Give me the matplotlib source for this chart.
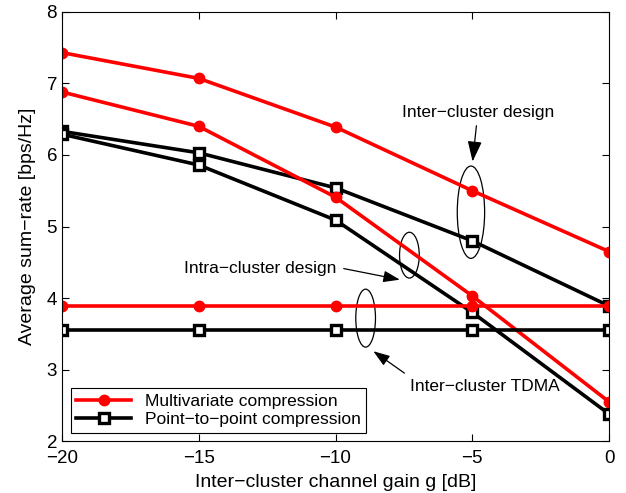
import matplotlib
matplotlib.use('Agg')
import matplotlib.pyplot as plt
from matplotlib.patches import Ellipse

plt.rcParams['font.family'] = ['Liberation Sans', 'DejaVu Sans']

# data
gain = [-20, -15, -10, -5, 0]
mv_inter = [7.43, 7.07, 6.39, 5.50, 4.65]
mv_intra = [6.88, 6.40, 5.41, 4.03, 2.55]
mv_tdma = [3.89, 3.89, 3.89, 3.89, 3.89]
p2p_inter = [6.33, 6.03, 5.54, 4.80, 3.89]
p2p_intra = [6.29, 5.86, 5.09, 3.80, 2.38]
p2p_tdma = [3.55, 3.55, 3.55, 3.55, 3.55]

fig = plt.figure(figsize=(6.26, 4.93), dpi=100)
ax = fig.add_axes([0.099, 0.105, 0.874, 0.871])

red = dict(color='#ff0000', lw=2.6, marker='o', ms=7.5, mfc='#ff0000', mec='#ff0000')
blk = dict(color='black', lw=2.6, marker='s', ms=7, mfc='white', mec='black', mew=2.4)

ax.plot(gain, mv_inter, label='Multivariate compression', **red)
ax.plot(gain, p2p_inter, label='Point\u2212to\u2212point compression', **blk)
ax.plot(gain, mv_intra, **red)
ax.plot(gain, p2p_intra, **blk)
ax.plot(gain, mv_tdma, **red)
ax.plot(gain, p2p_tdma, **blk)

# annotation ellipses
ax.add_patch(Ellipse((-5.05, 5.2), 1.0, 1.29, fill=False, lw=0.9, color='black'))
ax.add_patch(Ellipse((-7.3, 4.6), 0.72, 0.64, fill=False, lw=0.9, color='black'))
ax.add_patch(Ellipse((-8.9, 3.72), 0.72, 0.81, fill=False, lw=0.9, color='black'))

arr = dict(arrowstyle='-|>,head_length=1.0,head_width=0.35', color='black', lw=0.9)
ax.annotate('Inter\u2212cluster design', xy=(-5.0, 5.87), xytext=(-4.8, 6.59),
            ha='center', va='center', fontsize=12.5, arrowprops=arr)
ax.annotate('', xy=(-7.55, 4.25), xytext=(-9.8, 4.42), arrowprops=arr)
ax.text(-12.75, 4.42, 'Intra\u2212cluster design', ha='center', va='center', fontsize=12.5)
ax.annotate('', xy=(-8.7, 3.28), xytext=(-7.4, 2.93), arrowprops=arr)
ax.text(-4.55, 2.76, 'Inter\u2212cluster TDMA', ha='center', va='center', fontsize=12.5)

ax.set_xlim(-20, 0)
ax.set_ylim(2, 8)
ax.set_xticks(gain)
ax.set_yticks(range(2, 9))
ax.tick_params(direction='in', top=True, right=True, labelsize=13.5, length=5)
ax.tick_params(axis='x', pad=6)
ax.set_xlabel('Inter\u2212cluster channel gain g [dB]', fontsize=14, labelpad=5)
ax.set_ylabel('Average sum\u2212rate [bps/Hz]', fontsize=14, labelpad=8)

leg = ax.legend(loc='lower left', fontsize=12.5, fancybox=False, framealpha=1,
                edgecolor='black', handlelength=3.2, borderaxespad=0.5,
                labelspacing=0.2, borderpad=0.3)
leg.get_frame().set_linewidth(0.8)

fig.savefig('out.png', dpi=100)
